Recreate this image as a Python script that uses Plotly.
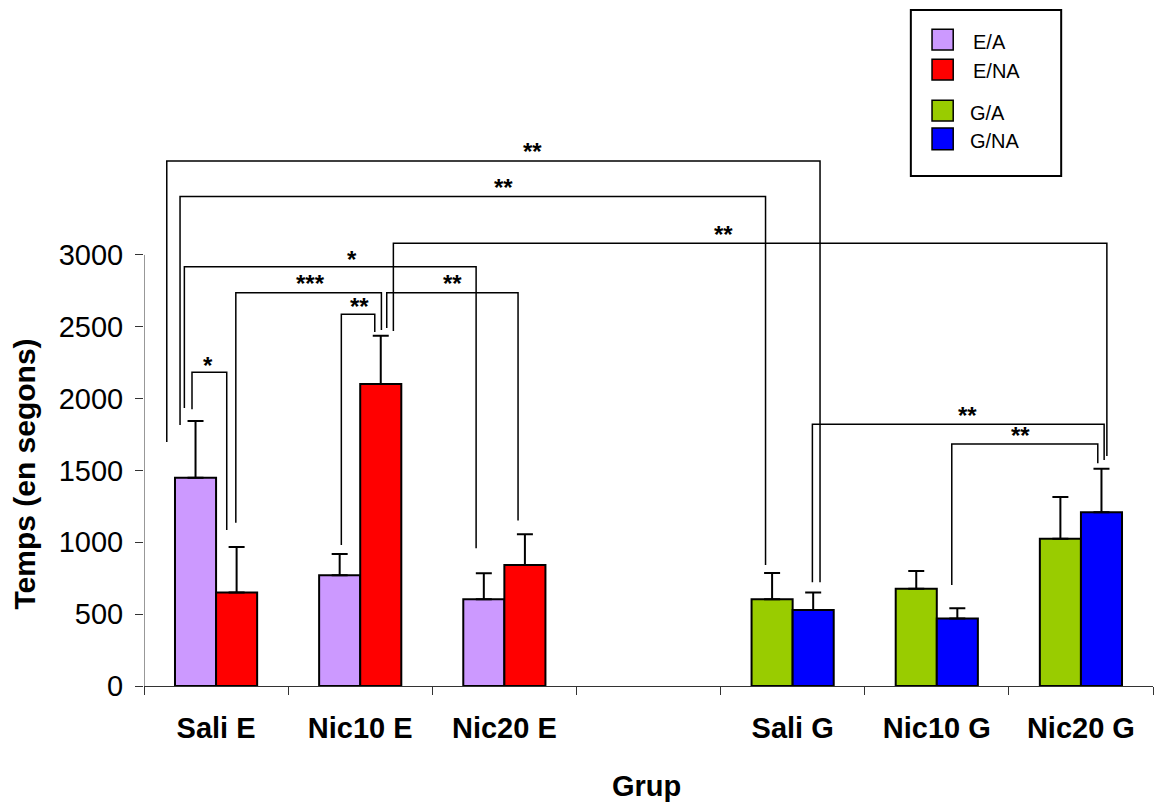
import plotly.graph_objects as go

# Category slots on the x axis (the blank slot separates the E and G groups)
categories = ["Sali E", "Nic10 E", "Nic20 E", " ", "Sali G", "Nic10 G", "Nic20 G"]

e_groups = ["Sali E", "Nic10 E", "Nic20 E"]
ea_mean = [1450, 770, 603]
ea_err = [395, 149, 181]
ena_mean = [650, 2102, 842]
ena_err = [317, 336, 214]

g_groups = ["Sali G", "Nic10 G", "Nic20 G"]
ga_mean = [603, 677, 1025]
ga_err = [183, 123, 290]
gna_mean = [529, 469, 1209]
gna_err = [121, 72, 303]

y_ticks = [0, 500, 1000, 1500, 2000, 2500, 3000]

# Significance brackets: (x_left, x_right, y_top, y_left_end, y_right_end, label, label_x, label_y)
brackets = [
    (-0.342, 4.190, 3654, 1698, 722, "**", 2.192, 3718),
    (-0.250, 3.812, 3406, 1817, 842, "**", 1.991, 3470),
    (1.230, 6.180, 3081, 2471, 1601, "**", 3.517, 3145),
    (-0.220, 1.804, 2918, 1935, 958, "*", 0.944, 2968),
    (0.137, 1.147, 2737, 1137, 2478, "***", 0.657, 2801),
    (1.184, 2.095, 2737, 2492, 1151, "**", 1.639, 2801),
    (0.869, 1.101, 2587, 981, 2464, "**", 0.992, 2638),
    (-0.167, 0.074, 2183, 1926, 1086, "*", -0.058, 2228),
    (4.137, 6.161, 1821, 722, 1573, "**", 5.215, 1885),
    (5.104, 6.117, 1684, 703, 1550, "**", 5.583, 1741),
]

FONT = "Liberation Sans, Arial, sans-serif"
colors = {"E/A": "#CC99FF", "E/NA": "#FF0000", "G/A": "#99CC00", "G/NA": "#0000FF"}


def bar(name, xs, ys, errs, group):
    return go.Bar(
        name=name, x=xs, y=ys, offsetgroup=group,
        marker=dict(color=colors[name], line=dict(color="black", width=2)),
        error_y=dict(type="data", array=errs, arrayminus=[0] * len(errs),
                     symmetric=False, color="black", thickness=2, width=8),
        showlegend=False,
    )


fig = go.Figure([
    bar("E/A", e_groups, ea_mean, ea_err, "A"),
    bar("E/NA", e_groups, ena_mean, ena_err, "NA"),
    bar("G/A", g_groups, ga_mean, ga_err, "A"),
    bar("G/NA", g_groups, gna_mean, gna_err, "NA"),
])

shapes = []
annotations = []
line = dict(color="black", width=1.5)
for xl, xr, yt, yle, yre, lab, lx, ly in brackets:
    shapes.append(dict(type="path", xref="x", yref="y", line=line,
                       path=f"M {xl} {yle} L {xl} {yt} L {xr} {yt} L {xr} {yre}"))
    annotations.append(dict(x=lx, y=ly, xref="x", yref="y", text=f"<b>{lab}</b>",
                            showarrow=False, xanchor="center", yanchor="middle",
                            font=dict(family=FONT, size=24, color="black")))

# Vertical axis line only spans the tick range
shapes.append(dict(type="line", xref="x", yref="y", x0=-0.5, x1=-0.5, y0=0, y1=3000,
                   line=dict(color="#333333", width=1)))

# Legend box
shapes.append(dict(type="rect", xref="paper", yref="paper", x0=0.760, x1=0.909,
                   y0=0.934, y1=1.238, line=dict(color="black", width=2), fillcolor="white"))
legend_items = [("E/A", 1.165, 1.203, 0.820, 1.180),
                ("E/NA", 1.110, 1.148, 0.820, 1.127),
                ("G/A", 1.035, 1.073, 0.817, 1.050),
                ("G/NA", 0.982, 1.022, 0.817, 0.998)]
for name, s0, s1, tx, ty in legend_items:
    shapes.append(dict(type="rect", xref="paper", yref="paper", x0=0.781, x1=0.802,
                       y0=s0, y1=s1, line=dict(color="black", width=1.5),
                       fillcolor=colors[name]))
    annotations.append(dict(x=tx, y=ty, xref="paper", yref="paper", text=name,
                            showarrow=False, xanchor="left", yanchor="middle",
                            font=dict(family=FONT, size=20, color="black")))

# Axis titles
annotations.append(dict(x=-0.118, y=0.389, xref="paper", yref="paper",
                        text="<b>Temps (en segons)</b>", textangle=-90, showarrow=False,
                        xanchor="center", yanchor="middle",
                        font=dict(family=FONT, size=30, color="black")))
annotations.append(dict(x=0.498, y=-0.183, xref="paper", yref="paper",
                        text="<b>Grup</b>", showarrow=False,
                        xanchor="center", yanchor="middle",
                        font=dict(family=FONT, size=29, color="black")))

fig.update_layout(
    width=1163, height=803,
    margin=dict(l=144, r=10, t=140, b=117),
    paper_bgcolor="white", plot_bgcolor="white",
    barmode="group", bargap=0.43, bargroupgap=0,
    shapes=shapes, annotations=annotations,
    font=dict(family=FONT, color="black"),
    xaxis=dict(type="category", categoryorder="array", categoryarray=categories,
               range=[-0.5, 6.5], tickson="boundaries", ticks="outside", ticklen=8,
               tickcolor="#333333", showline=True, linecolor="#333333", linewidth=1,
               showgrid=False, zeroline=False,
               tickfont=dict(family=FONT, size=29, color="black"),
               tickprefix="<b>", ticksuffix="</b>", ticklabelstandoff=16),
    yaxis=dict(range=[0, 3800], tickvals=y_ticks, ticks="outside", ticklen=8,
               tickcolor="#333333", showline=False, showgrid=False, zeroline=False,
               tickfont=dict(family=FONT, size=29, color="black"),
               ticklabelstandoff=6),
)

fig.write_html("out.html")
